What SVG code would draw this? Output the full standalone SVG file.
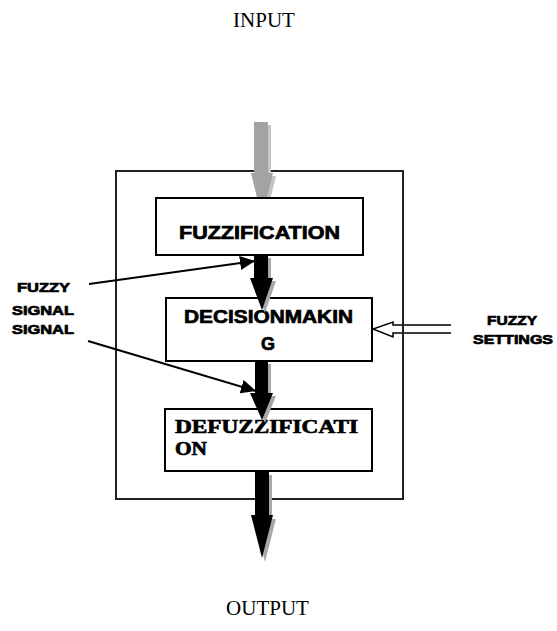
<svg xmlns="http://www.w3.org/2000/svg" width="557" height="631" viewBox="0 0 557 631">
<defs>
<style>
.box{fill:#fff;stroke:#000;stroke-width:2}
.outer{fill:none;stroke:#222;stroke-width:2}
.lbl{font-family:"Liberation Sans",Arial,sans-serif;font-weight:bold;fill:#000;stroke:#000;stroke-width:0.7}
.serif{font-family:"Liberation Serif","Times New Roman",serif;fill:#000}
.heavy{font-weight:bold;stroke:#000;stroke-width:0.7}
.sig{stroke:#000;stroke-width:2;fill:none}
</style>
<marker id="ah" markerUnits="userSpaceOnUse" markerWidth="16" markerHeight="14" refX="15" refY="7" orient="auto">
<path d="M0,0 L15,7 L0,14 Z" fill="#000"/>
</marker>
</defs>
<rect width="557" height="631" fill="#fff"/>
<text class="serif" x="264" y="27" font-size="21" text-anchor="middle">INPUT</text>
<text class="serif" x="267.5" y="615" font-size="21" text-anchor="middle">OUTPUT</text>
<g id="frame"><rect class="outer" x="116" y="171" width="287" height="328"/></g>
<g id="connectors">
<g id="input-arrow">
<path d="M254,122 H268 V173 H273 L262,218 L251,173 H254 Z" fill="#c4c4c4" transform="translate(3,3)"/>
<path d="M254,122 H268 V173 H273 L262,218 L251,173 H254 Z" fill="#a3a3a3"/>
</g>
</g>
<g id="fuzzification"><rect class="box" x="156" y="198" width="207" height="57"/>
<text class="lbl" x="179" y="239" font-size="18" textLength="161" lengthAdjust="spacingAndGlyphs">FUZZIFICATION</text></g>
<g id="decisionmaking"><rect class="box" x="166" y="298" width="206" height="63"/>
<text class="lbl" x="184" y="323" font-size="18" textLength="169" lengthAdjust="spacingAndGlyphs">DECISIONMAKIN</text>
<text class="lbl" x="268" y="350" font-size="18" text-anchor="middle">G</text></g>
<g id="defuzzification"><rect class="box" x="165" y="409" width="207" height="62"/>
<text class="serif heavy" x="175" y="433" font-size="19" textLength="183" lengthAdjust="spacingAndGlyphs">DEFUZZIFICATI</text>
<text class="serif heavy" x="175" y="455" font-size="19" textLength="32" lengthAdjust="spacingAndGlyphs">ON</text></g>
<g id="connectors2">
<g id="a1">
<path d="M254,255 H268 V278 H273 L262,310 L250,278 H254 Z" fill="#a8a8a8" transform="translate(3,3)"/>
<path d="M254,255 H268 V278 H273 L262,310 L250,278 H254 Z" fill="#000"/>
</g>
<g id="a2">
<path d="M255,361 H268 V393 H273 L262,420 L250,393 H255 Z" fill="#a8a8a8" transform="translate(3,3)"/>
<path d="M255,361 H268 V393 H273 L262,420 L250,393 H255 Z" fill="#000"/>
</g>
<g id="a3">
<path d="M255,471 H269 V515 H273 L262,558 L251,515 H255 Z" fill="#a8a8a8" transform="translate(3,4)"/>
<path d="M255,471 H269 V515 H273 L262,558 L251,515 H255 Z" fill="#000"/>
</g>
<line class="sig" x1="89" y1="284" x2="255" y2="261" marker-end="url(#ah)"/>
<line class="sig" x1="88" y1="341" x2="256" y2="391" marker-end="url(#ah)"/>
<path d="M451,325 H393 V322 L373,329 L393,337 V333 H451" fill="#fff" stroke="#000" stroke-width="1.5"/>
</g>
<g id="outer-edge"><line x1="403" y1="171" x2="403" y2="499" stroke="#222" stroke-width="2"/></g>
<g id="fuzzy-signal">
<text class="lbl" x="43.5" y="292" font-size="13" text-anchor="middle" textLength="53" lengthAdjust="spacingAndGlyphs">FUZZY</text>
<text class="lbl" x="43" y="315" font-size="13" text-anchor="middle" textLength="62" lengthAdjust="spacingAndGlyphs">SIGNAL</text>
<text class="lbl" x="43" y="334" font-size="13" text-anchor="middle" textLength="62" lengthAdjust="spacingAndGlyphs">SIGNAL</text>
</g>
<g id="fuzzy-settings">
<text class="lbl" x="512" y="325" font-size="13" text-anchor="middle" textLength="50" lengthAdjust="spacingAndGlyphs">FUZZY</text>
<text class="lbl" x="513" y="344" font-size="13" text-anchor="middle" textLength="80" lengthAdjust="spacingAndGlyphs">SETTINGS</text>
</g>
</svg>
